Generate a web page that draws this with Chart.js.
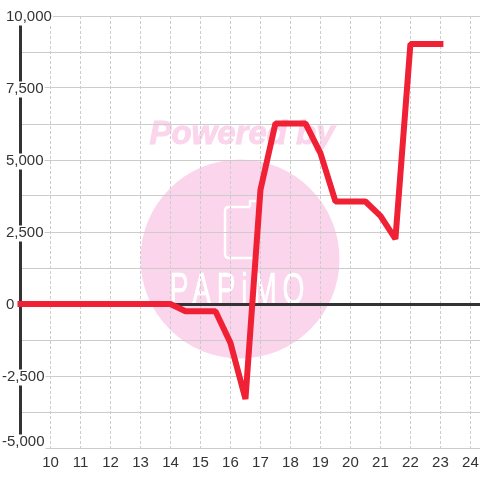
<!DOCTYPE html>
<html>
<head>
<meta charset="utf-8">
<title>Chart</title>
<script src="https://cdn.jsdelivr.net/npm/chart.js@4/dist/chart.umd.min.js"></script>
<style>
    html, body { margin: 0; padding: 0; background: #fff; }
    canvas { display: block; }
</style>
</head>
<body>
<canvas id="chart" width="480" height="480"></canvas>
<script>
// Chart data
const hours = [9, 9.5, 10, 10.5, 11, 11.5, 12, 12.5, 13, 13.5, 14, 14.5, 15, 15.5, 16, 16.5, 17, 17.5, 18, 18.5, 19, 19.5, 20, 20.5, 21, 21.5, 22, 22.5, 23];
const balance = [0, 0, 0, 0, 0, 0, 0, 0, 0, 0, 0, -250, -250, -250, -1350, -3300, 3960, 6270, 6270, 6270, 5240, 3560, 3560, 3560, 3060, 2260, 9030, 9030, 9030];

const xTicks = [9, 10, 11, 12, 13, 14, 15, 16, 17, 18, 19, 20, 21, 22, 23, 24];
const xTickLabels = ['', '10', '11', '12', '13', '14', '15', '16', '17', '18', '19', '20', '21', '22', '23', '24'];
const yTicks = [-5000, -3750, -2500, -1250, 0, 1250, 2500, 3750, 5000, 6250, 7500, 8750, 10000];
const yTickLabels = ['-5,000', '', '-2,500', '', '0', '', '2,500', '', '5,000', '', '7,500', '', '10,000'];

const TEXT_COLOR = '#333333';
const GRID_COLOR = '#cccccc';
const LINE_COLOR = '#f02035';
const MARK_COLOR = '#fbd5ec';

// Pink "Powered by" stamp behind the grid
const watermark = {
    id: 'watermark',
    beforeDraw(chart) {
        const ctx = chart.ctx;
        ctx.save();
        ctx.fillStyle = MARK_COLOR;
        ctx.beginPath();
        ctx.arc(240, 259, 99.5, 0, Math.PI * 2);
        ctx.fill();

        ctx.font = 'italic bold 33px "Liberation Sans"';
        ctx.textAlign = 'center';
        ctx.textBaseline = 'middle';
        ctx.strokeStyle = MARK_COLOR;
        ctx.lineWidth = 1;
        ctx.fillText('Powered by', 242, 135);
        ctx.strokeText('Powered by', 242, 135);

        // phone icon
        ctx.strokeStyle = '#ffffff';
        ctx.lineWidth = 2.5;
        ctx.lineJoin = 'round';
        ctx.beginPath();
        ctx.moveTo(250, 207);
        ctx.lineTo(229, 207);
        ctx.quadraticCurveTo(225, 207, 225, 211);
        ctx.lineTo(225, 254);
        ctx.quadraticCurveTo(225, 258, 229, 258);
        ctx.lineTo(256, 258);
        ctx.moveTo(250, 207);
        ctx.lineTo(250, 201);
        ctx.lineTo(256, 201);
        ctx.stroke();

        // logo lettering is tall and narrow
        ctx.fillStyle = '#ffffff';
        ctx.strokeStyle = '#ffffff';
        ctx.lineWidth = 0.7;
        ctx.translate(240, 291.5);
        ctx.scale(0.64, 1);
        ctx.font = '44px "Liberation Sans"';
        ctx.letterSpacing = '9px';
        ctx.fillText('PAPiMO', 0, 0);
        ctx.strokeText('PAPiMO', 0, 0);
        ctx.restore();
    }
};

// Negative labels hang out to the left, the bottom one sits above its line
const nudgeLabels = {
    id: 'nudgeLabels',
    afterLayout(chart) {
        chart.scales.y.getLabelItems().forEach(item => {
            const text = String(item.label);
            const pos = item.options.translation;
            if (text.charAt(0) !== '-') pos[0] += 4;
            pos[1] += 1;
            if (text === '-5,000') pos[1] -= 7;
        });
    }
};

new Chart(document.getElementById('chart').getContext('2d'), {
    type: 'line',
    data: {
        datasets: [{
            data: hours.map((h, i) => ({ x: h, y: balance[i] })),
            borderColor: LINE_COLOR,
            borderWidth: 6,
            borderCapStyle: 'square',
            borderJoinStyle: 'bevel',
            pointRadius: 0,
            tension: 0,
            fill: false,
            clip: false
        }]
    },
    options: {
        responsive: false,
        animation: false,
        layout: { autoPadding: false, padding: { left: 2, top: 16, right: 0, bottom: 0 } },
        plugins: { legend: { display: false }, tooltip: { enabled: false } },
        scales: {
            x: {
                type: 'linear',
                min: 9,
                max: 24.32,
                afterBuildTicks: axis => { axis.ticks = xTicks.map(value => ({ value })); },
                afterFit: axis => {
                    axis.height = 32;
                    axis.paddingLeft = 0;
                    axis.paddingRight = 0;
                },
                grid: {
                    color: GRID_COLOR,
                    lineWidth: 1,
                    drawTicks: false
                },
                border: { display: false, dash: [3, 2] },
                ticks: {
                    autoSkip: false,
                    maxRotation: 0,
                    padding: 6,
                    color: TEXT_COLOR,
                    font: { family: '"Liberation Sans"', size: 15 },
                    callback: (value, i) => xTickLabels[i]
                }
            },
            y: {
                min: -5000,
                max: 10000,
                afterBuildTicks: axis => { axis.ticks = yTicks.map(value => ({ value })); },
                afterFit: axis => { axis.width = 18.5; },
                grid: {
                    color: ctx => ctx.tick.value === 0 ? TEXT_COLOR : GRID_COLOR,
                    lineWidth: ctx => ctx.tick.value === 0 ? 3 : 1,
                    drawTicks: false
                },
                border: { display: true, color: TEXT_COLOR, width: 3 },
                ticks: {
                    autoSkip: false,
                    mirror: true,
                    padding: -18.5,
                    color: TEXT_COLOR,
                    font: { family: '"Liberation Sans"', size: 15, lineHeight: 1 },
                    showLabelBackdrop: ctx => ctx.tick.value % 2500 === 0,
                    backdropColor: '#ffffff',
                    backdropPadding: { top: 0, bottom: 1, left: 0, right: 1 },
                    callback: (value, i) => yTickLabels[i]
                }
            }
        }
    },
    plugins: [watermark, nudgeLabels]
});
</script>
</body>
</html>
